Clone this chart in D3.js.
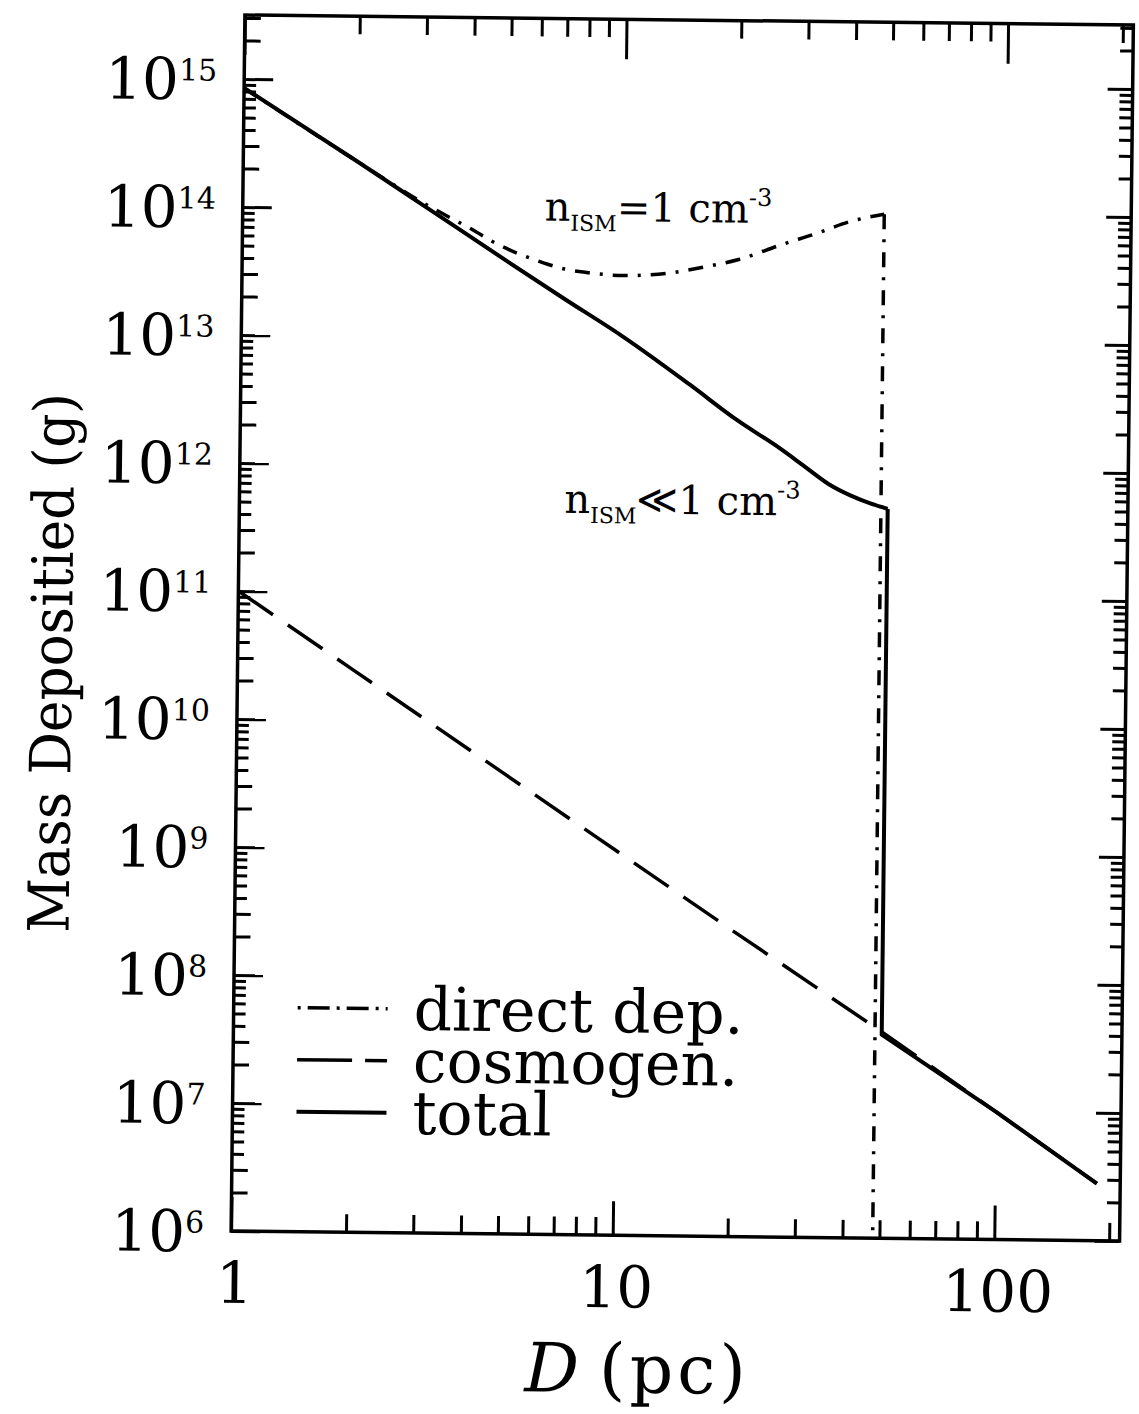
<!DOCTYPE html>
<html>
<head>
<meta charset="utf-8">
<script src="https://cdn.jsdelivr.net/npm/d3@7"></script>
<style>
  body { margin: 0; background: #fff; }
  svg { display: block; }
  text { font-family: "DejaVu Serif", serif; fill: #000; }
</style>
</head>
<body>
<svg id="chart" width="1139" height="1414"></svg>
<script>
// distance D in pc, deposited mass in g
const directD = [1, 2, 3, 3.5, 4, 4.5, 5, 6, 7, 8, 10, 13, 16, 20, 26, 32, 39, 48, 48];
const directM = [8.5e14, 2.3e14, 1.1e14, 8.6e13, 7.0e13, 5.7e13, 4.9e13, 4.0e13, 3.5e13, 3.3e13, 3.15e13,
                 3.3e13, 3.7e13, 4.3e13, 5.7e13, 7.0e13, 8.7e13, 1.0e14, 1e6];

const cosmoD = [1, 2, 5, 10, 20, 50, 100, 185];
const cosmoM = [1.0e11, 2.5e10, 4.0e9, 1.0e9, 2.5e8, 4.1e7, 1.0e7, 2.8e6];

const totalD = [1, 2, 3, 5, 7, 10, 15, 20, 26, 30, 35, 40, 45, 50, 50, 100, 185];
const totalM = [8.5e14, 2.3e14, 1.05e14, 3.9e13, 2.05e13, 1.05e13, 4.5e12, 2.4e12, 1.45e12, 1.07e12, 7.7e11,
                6.3e11, 5.5e11, 5.0e11, 3.9e7, 1.0e7, 2.8e6];

const xMajor = [1, 10, 100];
const xMinor = [2, 3, 4, 5, 6, 7, 8, 9, 20, 30, 40, 50, 60, 70, 80, 90, 200];
const xLabels = ['1', '10', '100'];
const yExp = [6, 7, 8, 9, 10, 11, 12, 13, 14, 15];
const legendLabels = ['direct dep.', 'cosmogen.', 'total'];

// frame (the scan is tilted a little, so the whole plot is rotated)
const L = 238, R = 1126.5, T = 20, B = 1236;
const svg = d3.select('#chart');
const g = svg.append('g').attr('transform', 'rotate(0.65, 682, 628)');

const x = d3.scaleLog().domain([1, 213]).range([L, R]);
const y = d3.scaleLog().domain([1e6, Math.pow(10, 15.5)]).range([B, T]);

// minor y ticks: 2..9 x 10^k inside the range
const yMinorA = [], yMinorB = [];
yExp.forEach(k => {
    for (let m = 2; m <= 9; m++) {
        const v = m * Math.pow(10, k);
        if (v > y.domain()[1]) continue;
        (m <= 3 ? yMinorA : yMinorB).push(v);
    }
});
const yMajor = yExp.map(k => Math.pow(10, k));

// draws one set of inward ticks with a d3 axis, no domain line, no labels
function tickSet(axis, vals, size, transform) {
    g.append('g').attr('transform', transform)
        .call(axis.tickValues(vals).tickSize(size).tickSizeOuter(0).tickFormat(''))
        .call(s => s.select('.domain').remove())
        .call(s => s.selectAll('text').remove())
        .selectAll('line').attr('stroke', '#000').attr('stroke-width', 3);
}

tickSet(d3.axisBottom(x), xMajor, -34, `translate(0,${B})`);
tickSet(d3.axisBottom(x), xMinor, -18, `translate(0,${B})`);
tickSet(d3.axisTop(x), xMajor, -40, `translate(0,${T})`);
tickSet(d3.axisTop(x), xMinor, -18, `translate(0,${T})`);
tickSet(d3.axisLeft(y), yMajor, -29, `translate(${L},0)`);
tickSet(d3.axisLeft(y), yMinorA, -16, `translate(${L},0)`);
tickSet(d3.axisLeft(y), yMinorB, -12, `translate(${L},0)`);
tickSet(d3.axisRight(y), yMajor, -25, `translate(${R},0)`);
tickSet(d3.axisRight(y), yMinorA.concat(yMinorB), -13, `translate(${R},0)`);

g.append('rect')
    .attr('x', L).attr('y', T).attr('width', R - L).attr('height', B - T)
    .attr('fill', 'none').attr('stroke', '#000').attr('stroke-width', 3.5);

// curves
g.append('clipPath').attr('id', 'plot-clip')
    .append('rect').attr('x', L).attr('y', T).attr('width', R - L).attr('height', B - T);

const smooth = d3.line().x(d => x(d[0])).y(d => y(d[1])).curve(d3.curveMonotoneX);
const straight = d3.line().x(d => x(d[0])).y(d => y(d[1]));
const curves = g.append('g').attr('clip-path', 'url(#plot-clip)');

function drawPath(pts, gen, width, dash) {
    curves.append('path')
        .datum(pts)
        .attr('d', gen)
        .attr('fill', 'none').attr('stroke', '#000').attr('stroke-width', width)
        .attr('stroke-linejoin', 'round')
        .attr('stroke-dasharray', dash);
}

const cosmo = d3.zip(cosmoD, cosmoM);
const direct = d3.zip(directD, directM);
const total = d3.zip(totalD, totalM);

drawPath(cosmo, straight, 3.5, '42,18');
// direct deposition: smooth part, then the cut-off drop
drawPath(direct.slice(0, 18), smooth, 3.5, '15,10,3,10');
drawPath(direct.slice(17), straight, 3.5, '15,10,3,10');
// total: smooth part, drop, then cosmogenic tail
drawPath(total.slice(0, 14), smooth, 4, null);
drawPath(total.slice(13), straight, 4, null);

// tick labels
g.selectAll('.xlab').data(xMajor).join('text')
    .attr('class', 'xlab')
    .attr('x', d => x(d) + 4).attr('y', B + 72)
    .attr('text-anchor', 'middle').attr('font-size', 58)
    .text((d, i) => xLabels[i]);

g.selectAll('.ylab').data(yExp).join('text')
    .attr('class', 'ylab')
    .attr('x', 211).attr('y', k => y(Math.pow(10, k)) + 21)
    .attr('text-anchor', 'end').attr('font-size', 58)
    .call(t => {
        t.append('tspan').text('10');
        t.append('tspan').attr('font-size', 30).attr('dy', -19).text(k => k);
    });

// axis titles
g.append('text')
    .attr('x', 533).attr('y', 1393).attr('font-size', 68)
    .call(t => {
        t.append('tspan').attr('font-style', 'italic').text('D');
        t.append('tspan').attr('dx', 20).attr('letter-spacing', 4).text('(pc)');
    });

g.append('text')
    .attr('transform', 'translate(72,670) rotate(-90)')
    .attr('text-anchor', 'middle').attr('font-size', 57)
    .attr('textLength', 540).attr('lengthAdjust', 'spacingAndGlyphs')
    .text('Mass Depositied (g)');

// curve annotations
function nism(xp, yp, rel) {
    const t = g.append('text').attr('x', xp).attr('y', yp).attr('font-size', 40);
    t.append('tspan').text('n');
    t.append('tspan').attr('font-size', 22).attr('dy', 10).text('ISM');
    t.append('tspan').attr('dy', -10).text(rel + '1 cm');
    t.append('tspan').attr('font-size', 24).attr('dy', -17).text('-3');
}
nism(540, 222, '=');
nism(563, 514, '\u226A');

// legend
const legendStyles = [
    { dash: '3,7,22,7', w: 3.5 },
    { dash: '55,13,22', w: 3.5 },
    { dash: null, w: 4 }
];
const legend = g.append('g');
legendLabels.forEach((lab, i) => {
    const yy = 1012 + i * 52;
    legend.append('line')
        .attr('x1', 302).attr('x2', 392).attr('y1', yy).attr('y2', yy)
        .attr('stroke', '#000').attr('stroke-width', legendStyles[i].w)
        .attr('stroke-dasharray', legendStyles[i].dash);
    legend.append('text')
        .attr('x', 418).attr('y', yy + 21).attr('font-size', 60)
        .text(lab);
});
</script>
</body>
</html>
